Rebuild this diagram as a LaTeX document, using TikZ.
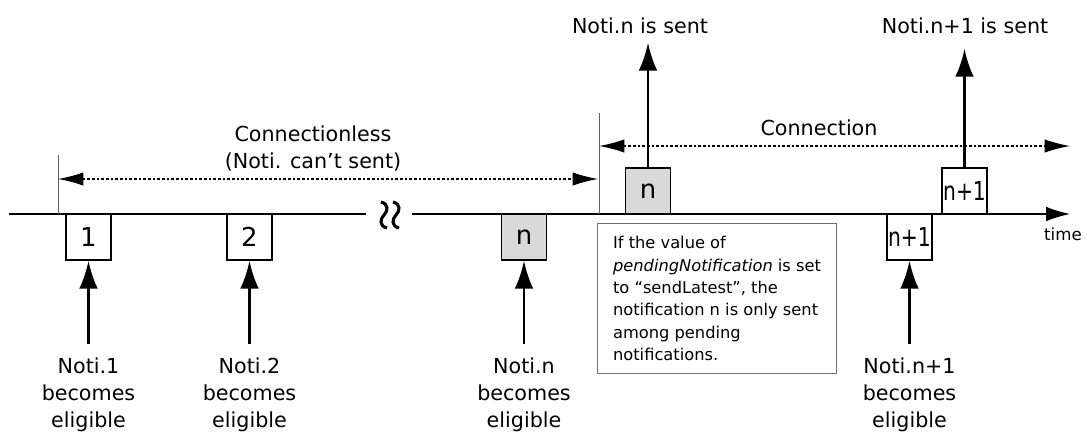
\documentclass[tikz,border=0pt]{standalone}
\usepackage{fontspec}
\setmainfont{DejaVu Sans}
\usepackage{graphicx}
\usepackage{tikz}
\usetikzlibrary{arrows.meta}
\definecolor{tlGray}{HTML}{D9D9D9}
\definecolor{tlLine}{HTML}{606060}
\definecolor{tlNote}{HTML}{707070}
\newcommand{\narrow}[1]{\scalebox{0.78}[1]{#1}}
\tikzset{
  evbox/.style={rectangle, draw=black, line width=0.9pt, fill=white, minimum width=33.75pt, minimum height=34.5pt, inner sep=0pt, font=\fontsize{19.5}{22}\selectfont},
  evboxg/.style={evbox, fill=tlGray},
  lbl/.style={align=center, inner sep=0pt, font=\fontsize{15.5}{20.25}\selectfont},
  note/.style={rectangle, draw=tlNote, line width=0.8pt, fill=white, align=left, minimum width=179.25pt, minimum height=112.5pt, inner sep=0pt, font=\fontsize{12.2}{16.8}\selectfont},
  arrow/.style={-{Latex[length=21pt,width=14pt]}, line width=2.2pt},
  span/.style={{Latex[length=19pt,width=10pt]}-{Latex[length=19pt,width=10pt]}, line width=1pt, dash pattern=on 2pt off 1.5pt},
  axis/.style={line width=1pt},
  tick/.style={draw=tlLine, line width=0.7pt}
}
\begin{document}
\begin{tikzpicture}[x=0.75pt, y=-0.75pt]
\useasboundingbox (0,0) rectangle (1087,433);
\coordinate (t0) at (9,214);
\coordinate (tgapL) at (366,214);
\coordinate (tgapR) at (412,214);
\coordinate (tend) at (1070,214);
\coordinate (tkcl) at (58,155);
\coordinate (tkc) at (599,113);
\coordinate (clL) at (58,179);
\coordinate (clR) at (598,179);
\coordinate (cL) at (599,146);
\coordinate (cR) at (1070,146);
\draw[axis] (t0) -- (tgapL);
\draw[axis, -{Latex[length=18pt,width=11pt]}] (tgapR) -- (tend);
\foreach \x in {384,396}
  \draw[line width=2.3pt] (\x-3,202) .. controls (\x+5,204) and (\x+4,211) .. (\x,215) .. controls (\x-4,219) and (\x-5,226) .. (\x+3,228);
\draw[tick] (tkcl) -- (tkcl |- t0);
\draw[tick] (tkc) -- (tkc |- t0);
\draw[span] (clL) -- (clR);
\draw[span] (cL) -- (cR);
\node[lbl] (cltxt) at (313,149) {Connectionless\\(Noti. can’t sent)};
\node[lbl] (ctxt) at (819,128) {Connection};
\node[lbl, font=\fontsize{12.5}{15}\selectfont, anchor=base] (time) at (1063,240) {time};
\node[evbox] (b1) at (88.5,237) {1};
\node[evbox] (b2) at (249.5,237) {2};
\node[evboxg] (bn) at (524,237) {n};
\node[evbox] (bn1) at (909.5,237) {\narrow{n+1}};
\node[evboxg] (sn) at (648,191) {n};
\node[evbox] (sn1) at (964.5,191) {\narrow{n+1}};
\node[note, anchor=north west] (note) at (597,223) {If the value of\\\textit{pendingNotification} is set\\to “sendLatest”, the\\notification n is only sent\\among pending\\notifications.};
\node[lbl, anchor=north] (e1) at (88.5,357.5) {Noti.1\\becomes\\eligible};
\node[lbl, anchor=north] (e2) at (249.5,357.5) {Noti.2\\becomes\\eligible};
\node[lbl, anchor=north] (en) at (524,357.5) {Noti.n\\becomes\\eligible};
\node[lbl, anchor=north] (en1) at (909.5,357.5) {Noti.n+1\\becomes\\eligible};
\node[lbl, anchor=base] (sentn) at (640,33.5) {Noti.n is sent};
\node[lbl, anchor=base] (sentn1) at (965,33.5) {Noti.n+1 is sent};
\draw[arrow, shorten <=10pt] (e1) -- (b1);
\draw[arrow, shorten <=10pt] (e2) -- (b2);
\draw[arrow, shorten <=10pt] (en) -- (bn);
\draw[arrow, shorten <=10pt] (en1) -- (bn1);
\draw[arrow, shorten >=6.4pt] (sn.north) -- (sn.north |- sentn.south);
\draw[arrow, shorten >=11pt] (sn1.north) -- (sn1.north |- sentn1.south);
\end{tikzpicture}
\end{document}
